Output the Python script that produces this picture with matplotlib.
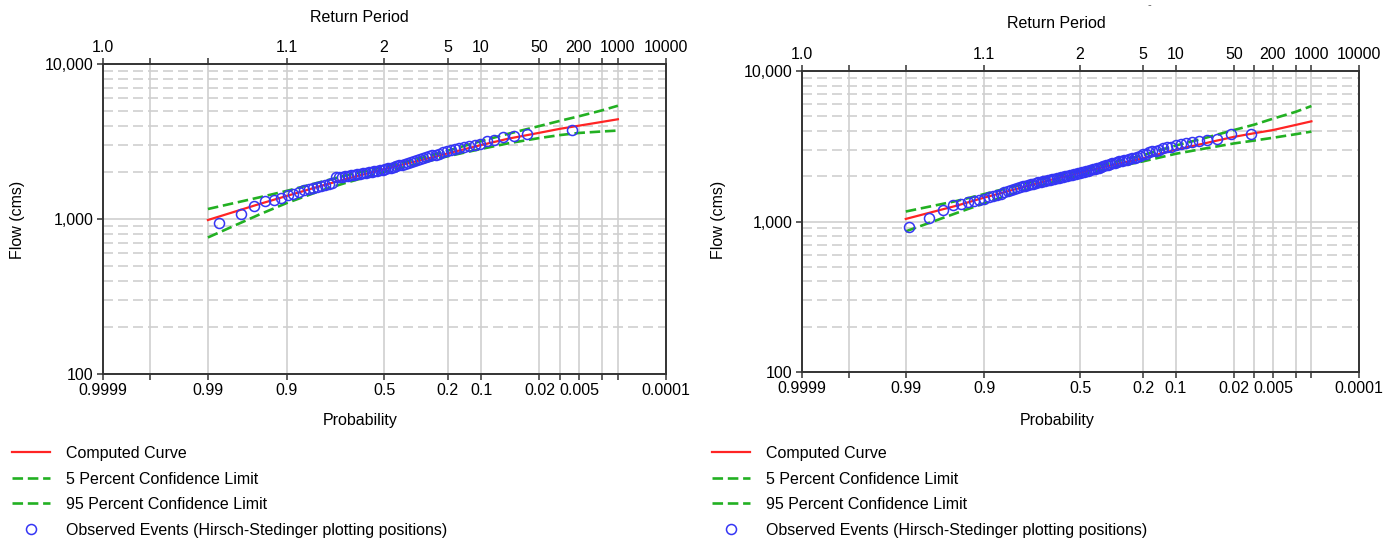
import numpy as np
import matplotlib
matplotlib.use("Agg")
from matplotlib import pyplot as plt
from matplotlib.lines import Line2D
from matplotlib.ticker import FixedLocator, NullLocator, LogLocator, NullFormatter
from statistics import NormalDist

plt.rcParams['font.family'] = ['Liberation Sans', 'DejaVu Sans']
plt.rcParams['font.size'] = 11.5

# axis ticks
tick_p = [0.9999, 0.999, 0.99, 0.9, 0.5, 0.2, 0.1, 0.02, 0.01, 0.005, 0.002, 0.001, 0.0001]
prob_labels = ['0.9999', '', '0.99', '0.9', '0.5', '0.2', '0.1', '0.02', '', '0.005', '', '', '0.0001']
period_labels = ['1.0', '', '', '1.1', '2', '5', '10', '50', '', '200', '', '1000', '10000']
flow_ticks = [100, 1000, 10000]
flow_labels = ['100', '1,000', '10,000']

# computed curve and confidence limits (exceedance probability -> flow, cms)
curve_p = [0.99, 0.95, 0.9, 0.8, 0.7, 0.5, 0.3, 0.2, 0.1, 0.05, 0.02, 0.01, 0.005, 0.002, 0.001]
left_curve = [985, 1250, 1410, 1630, 1800, 2100, 2420, 2650, 3000, 3300, 3600, 3820, 4000, 4230, 4400]
left_upper = [1160, 1380, 1520, 1730, 1900, 2170, 2500, 2760, 3180, 3550, 3980, 4300, 4600, 5020, 5380]
left_lower = [760, 1070, 1270, 1520, 1700, 2010, 2320, 2540, 2830, 3080, 3330, 3480, 3590, 3670, 3720]

right_curve = [1040, 1275, 1440, 1650, 1820, 2110, 2430, 2630, 3000, 3290, 3650, 3860, 4050, 4380, 4630]
right_upper = [1165, 1370, 1520, 1730, 1900, 2180, 2530, 2760, 3200, 3560, 4050, 4400, 4820, 5350, 5850]
right_lower = [860, 1140, 1320, 1560, 1740, 2030, 2330, 2510, 2820, 3040, 3300, 3450, 3600, 3800, 3960]

# observed events
left_obs_p = [0.0064, 0.0290, 0.0435, 0.0580, 0.0725, 0.0870, 0.1014, 0.1159, 0.1304, 0.1449,
              0.1594, 0.1739, 0.1884, 0.2029, 0.2174, 0.2319, 0.2464, 0.2609, 0.2754, 0.2899,
              0.3043, 0.3188, 0.3333, 0.3478, 0.3623, 0.3768, 0.3913, 0.4058, 0.4203, 0.4348,
              0.4493, 0.4638, 0.4783, 0.4928, 0.5072, 0.5217, 0.5362, 0.5507, 0.5652, 0.5797,
              0.5942, 0.6087, 0.6232, 0.6377, 0.6522, 0.6667, 0.6812, 0.6957, 0.7101, 0.7246,
              0.7391, 0.7536, 0.7681, 0.7826, 0.7971, 0.8116, 0.8261, 0.8406, 0.8551, 0.8696,
              0.8841, 0.8986, 0.9130, 0.9275, 0.9420, 0.9565, 0.9710, 0.9855]
left_obs_q = [3770, 3530, 3420, 3370, 3250, 3170, 3060, 2990, 2950, 2910,
              2870, 2830, 2790, 2740, 2690, 2640, 2600, 2570, 2540, 2500,
              2460, 2430, 2400, 2370, 2340, 2300, 2270, 2240, 2215, 2190,
              2165, 2140, 2120, 2095, 2075, 2060, 2045, 2030, 2015, 2000,
              1985, 1970, 1955, 1940, 1925, 1910, 1895, 1885, 1875, 1865,
              1855, 1710, 1680, 1650, 1630, 1605, 1580, 1560, 1530, 1500,
              1460, 1420, 1375, 1333, 1300, 1218, 1077, 943]

right_obs_p = [0.0111, 0.0222, 0.0333, 0.0444, 0.0556, 0.0667, 0.0778, 0.0889, 0.1000, 0.1111,
               0.1222, 0.1333, 0.1444, 0.1556, 0.1667, 0.1778, 0.1889, 0.2000, 0.2111, 0.2222,
               0.2333, 0.2444, 0.2556, 0.2667, 0.2778, 0.2889, 0.3000, 0.3111, 0.3222, 0.3333,
               0.3444, 0.3556, 0.3667, 0.3778, 0.3889, 0.4000, 0.4111, 0.4222, 0.4333, 0.4444,
               0.4556, 0.4667, 0.4778, 0.4889, 0.5000, 0.5111, 0.5222, 0.5333, 0.5444, 0.5556,
               0.5667, 0.5778, 0.5889, 0.6000, 0.6111, 0.6222, 0.6333, 0.6444, 0.6556, 0.6667,
               0.6778, 0.6889, 0.7000, 0.7111, 0.7222, 0.7333, 0.7444, 0.7556, 0.7667, 0.7778,
               0.7889, 0.8000, 0.8111, 0.8222, 0.8333, 0.8444, 0.8556, 0.8667, 0.8778, 0.8889,
               0.9000, 0.9111, 0.9222, 0.9333, 0.9444, 0.9556, 0.9667, 0.9778, 0.9889]
right_obs_q = [3790, 3840, 3520, 3470, 3420, 3370, 3320, 3270, 3200, 3150,
               3110, 3060, 3000, 2960, 2920, 2880, 2830, 2790, 2740, 2700,
               2660, 2630, 2600, 2580, 2560, 2540, 2510, 2480, 2450, 2430,
               2410, 2390, 2360, 2330, 2300, 2280, 2260, 2240, 2220, 2200,
               2180, 2160, 2140, 2120, 2110, 2090, 2075, 2060, 2045, 2030,
               2015, 2000, 1985, 1970, 1955, 1940, 1925, 1910, 1895, 1880,
               1865, 1850, 1835, 1820, 1800, 1785, 1770, 1755, 1730, 1710,
               1690, 1665, 1640, 1615, 1590, 1560, 1530, 1500, 1470, 1445,
               1420, 1395, 1370, 1345, 1315, 1290, 1195, 1060, 925]

legend_labels = ['Computed Curve', '5 Percent Confidence Limit', '95 Percent Confidence Limit',
                 'Observed Events (Hirsch-Stedinger plotting positions)']

RED = '#ff2424'
GREEN = '#22b022'
BLUE = '#3535f5'
GRID = '#cfcfcf'
DASH = (0, (4, 1.8))

nd = NormalDist()


def to_z(p):
    p = np.clip(np.asarray(p, dtype=float), 1e-12, 1 - 1e-12)
    return np.vectorize(nd.inv_cdf, otypes=[float])(p)


def from_z(z):
    return np.vectorize(nd.cdf, otypes=[float])(np.asarray(z, dtype=float))


def prob_axis(a):
    a.set_xscale('function', functions=(to_z, from_z))
    a.set_xlim(0.9999, 0.0001)
    a.xaxis.set_major_locator(FixedLocator(tick_p))
    a.xaxis.set_minor_locator(NullLocator())


def panel(rect, curve, upper, lower, obs_p, obs_q):
    ax = fig.add_axes(rect)
    prob_axis(ax)
    ax.set_yscale('log')
    ax.set_ylim(100, 10000)
    ax.set_yticks(flow_ticks)
    ax.set_yticklabels(flow_labels)
    ax.yaxis.set_minor_locator(LogLocator(base=10, subs=np.arange(2, 10)))
    ax.yaxis.set_minor_formatter(NullFormatter())
    ax.set_xticklabels(prob_labels)
    ax.set_axisbelow(True)
    ax.grid(axis='x', which='major', color=GRID, lw=1.2)
    ax.grid(axis='y', which='major', color=GRID, lw=1.2)
    ax.grid(axis='y', which='minor', color=GRID, lw=1.2, ls=(0, (6, 3)))
    ax.tick_params(axis='both', which='major', direction='out', length=4.5, width=1.1,
                   color='#333333', labelsize=11.5, pad=2)
    ax.tick_params(axis='y', which='minor', length=0)

    ax.plot(curve_p, curve, color=RED, lw=1.6, zorder=3)
    ax.plot(curve_p, upper, color=GREEN, lw=1.9, ls=DASH, zorder=3)
    ax.plot(curve_p, lower, color=GREEN, lw=1.9, ls=DASH, zorder=3)
    ax.plot(obs_p, obs_q, ls='none', marker='o', ms=7.2, mfc='none', mec=BLUE, mew=1.1, zorder=4)

    top = ax.twiny()
    prob_axis(top)
    top.set_xticklabels(period_labels)
    top.tick_params(axis='x', direction='out', length=4.5, width=1.1, color='#333333',
                    labelsize=11.5, pad=2)
    for a in (ax, top):
        for s in a.spines.values():
            s.set_color('#333333')
            s.set_linewidth(1.2)
    return ax


fig = plt.figure(figsize=(13.96, 5.42), dpi=100)
W, H = 1396.0, 542.0

panel([102.5 / W, 1 - 374 / H, 563 / W, 310 / H], left_curve, left_upper, left_lower,
      left_obs_p, left_obs_q)
panel([801.5 / W, 1 - 372 / H, 557 / W, 301 / H], right_curve, right_upper, right_lower,
      right_obs_p, right_obs_q)

handles = [Line2D([], [], color=RED, lw=1.6),
           Line2D([], [], color=GREEN, lw=1.9, ls=DASH),
           Line2D([], [], color=GREEN, lw=1.9, ls=DASH),
           Line2D([], [], ls='none', marker='o', ms=7.2, mfc='none', mec=BLUE, mew=1.1)]

for x0, cx in ((0, 0), (700, 697)):
    fig.text((359 + cx) / W, 1 - (18 + (cx and 6)) / H, 'Return Period', ha='center', va='center')
    fig.text((360 + cx) / W, 1 - 421 / H, 'Probability', ha='center', va='center')
    fig.text((18 + x0) / W, 1 - 220 / H, 'Flow (cms)', ha='center', va='center', rotation=90)
    fig.legend(handles, legend_labels, loc='upper left', bbox_to_anchor=((12 + x0) / W, 1 - 446 / H),
               frameon=False, borderpad=0, borderaxespad=0, handlelength=2.4, handletextpad=0.95,
               labelspacing=0.66, fontsize=11.5)

fig.text(1149 / W, 1 - 5 / H, '-', ha='center', va='center', fontsize=8, color='#555555')

fig.savefig('out.png', dpi=100)
